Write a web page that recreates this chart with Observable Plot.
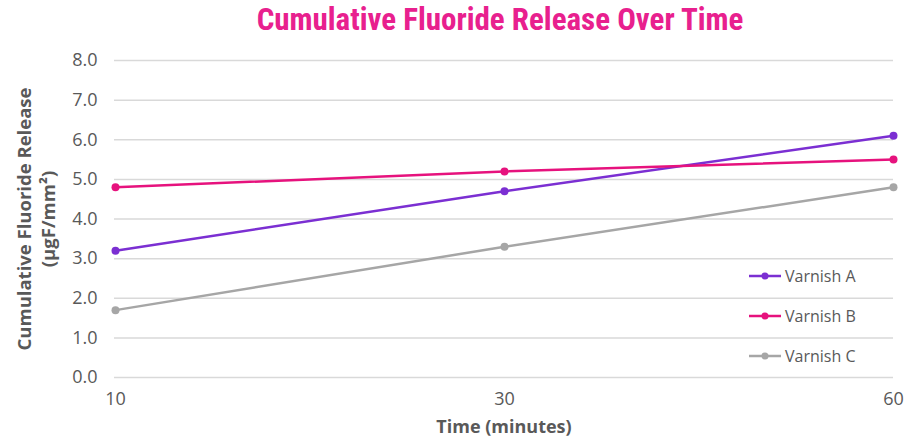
<!DOCTYPE html>
<html>
<head>
<meta charset="utf-8">
<script src="https://cdn.jsdelivr.net/npm/d3@7"></script>
<script src="https://cdn.jsdelivr.net/npm/@observablehq/plot@0.6"></script>
<style>
  html, body { margin: 0; padding: 0; background: #fff; }
  #wrap { position: relative; width: 922px; height: 445px; overflow: hidden; }
  #title { height: 40px; line-height: 40px; text-align: center; padding-left: 78px;
    font-family: "Liberation Sans Narrow", "Roboto Condensed", "DejaVu Sans Condensed", sans-serif;
    font-weight: bold; font-size: 31px; color: #E8208E; box-sizing: border-box; }
  #legend { position: absolute; left: 749px; top: 256px; font-family: "Open Sans", Lato, sans-serif;
    font-size: 16px; color: #595959; }
  .item { display: flex; align-items: center; height: 40px; }
  .item svg { margin-right: 4px; }
</style>
</head>
<body>
<div id="wrap">
  <div id="title">Cumulative Fluoride Release Over Time</div>
  <div id="chart"></div>
  <div id="legend"></div>
</div>
<script>
const times = ["10", "30", "60"];
const seriesNames = ["Varnish A", "Varnish B", "Varnish C"];
const varnishA = [3.2, 4.7, 6.1];
const varnishB = [4.8, 5.2, 5.5];
const varnishC = [1.7, 3.3, 4.8];
const colors = ["#7B2FD2", "#E6127D", "#A6A6A6"];
const yTicks = [0, 1, 2, 3, 4, 5, 6, 7, 8];
const yLabel = "Cumulative Fluoride Release\n(µgF/mm²)";
const xLabel = "Time (minutes)";

const allValues = [varnishA, varnishB, varnishC];
const data = [];
seriesNames.forEach((s, i) => times.forEach((t, j) => data.push({series: s, time: t, value: allValues[i][j]})));

const font = "'Open Sans', Lato, sans-serif";
const chart = Plot.plot({
  width: 922,
  height: 405,
  marginLeft: 114,
  marginRight: 29,
  marginTop: 20,
  marginBottom: 68,
  style: {fontFamily: font, fontSize: "18px", color: "#595959", background: "white"},
  x: {type: "point", domain: times, padding: 0, label: null},
  y: {domain: [0, 8], ticks: yTicks, label: null},
  color: {domain: seriesNames, range: colors},
  marks: [
    Plot.gridY(yTicks, {stroke: "#d9d9d9", strokeOpacity: 1, strokeWidth: 1.5}),
    Plot.axisY(yTicks, {tickSize: 0, tickPadding: 17, tickFormat: d3.format(".1f"), fill: "#595959", fontSize: 18, label: null}),
    Plot.axisX(times, {tickSize: 0, tickPadding: 15, fill: "#595959", fontSize: 18, label: null}),
    Plot.line(data, {x: "time", y: "value", z: "series", stroke: "series", strokeWidth: 2.5}),
    Plot.dot(data, {x: "time", y: "value", fill: "series", r: 4}),
    Plot.text([yLabel], {text: d => d, frameAnchor: "left", textAnchor: "middle", dx: -79, rotate: -90, fontWeight: "bold", fontSize: 18.5, fill: "#595959", lineHeight: 1.3}),
    Plot.text([xLabel], {text: d => d, frameAnchor: "bottom", dy: 55, fontWeight: "bold", fontSize: 18, fill: "#595959"})
  ]
});
document.getElementById("chart").appendChild(chart);

const legend = d3.select("#legend");
seriesNames.forEach((s, i) => {
  const item = legend.append("div").attr("class", "item");
  const sw = item.append("svg").attr("width", 32).attr("height", 10);
  sw.append("line").attr("x1", 0).attr("x2", 32).attr("y1", 5).attr("y2", 5).attr("stroke", colors[i]).attr("stroke-width", 2.5);
  sw.append("circle").attr("cx", 16).attr("cy", 5).attr("r", 3.5).attr("fill", colors[i]);
  item.append("span").text(s);
});
</script>
</body>
</html>
